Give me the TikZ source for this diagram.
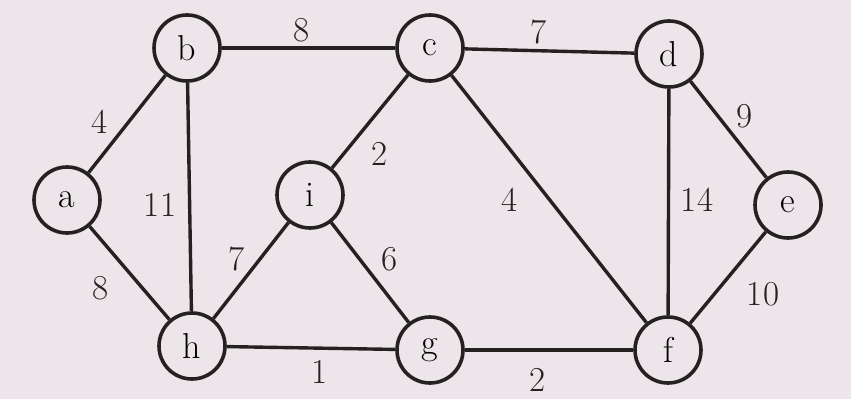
\documentclass[tikz,border=0pt]{standalone}
\begin{document}
\begin{tikzpicture}[x=1pt,y=-1pt,
  vert/.style={circle,draw=inkc,line width=3.6pt,fill=paper,minimum size=66pt,inner sep=0pt,font=\fontsize{36}{40}\selectfont},
  edge/.style={draw=inkc,line width=3.4pt},
  wlab/.style={font=\fontsize{35}{39}\selectfont,text=inkc,inner sep=0pt}]
\definecolor{paper}{RGB}{236,229,233}
\definecolor{inkc}{RGB}{38,33,33}
\fill[paper] (0,0) rectangle (851,399);
\useasboundingbox (0,0) rectangle (851,399);
\node[vert] (a) at (67,200) {a};
\node[vert] (b) at (187,48) {b};
\node[vert] (c) at (430,48) {c};
\node[vert] (d) at (669,54) {d};
\node[vert] (e) at (788,205) {e};
\node[vert] (f) at (668,350) {f};
\node[vert] (g) at (430,350) {g};
\node[vert] (h) at (192,346) {h};
\node[vert] (i) at (310,195) {i};
\draw[edge] (a) -- (b);
\draw[edge] (b) -- (c);
\draw[edge] (c) -- (d);
\draw[edge] (d) -- (e);
\draw[edge] (b) -- (h);
\draw[edge] (a) -- (h);
\draw[edge] (c) -- (i);
\draw[edge] (c) -- (f);
\draw[edge] (d) -- (f);
\draw[edge] (e) -- (f);
\draw[edge] (h) -- (i);
\draw[edge] (i) -- (g);
\draw[edge] (h) -- (g);
\draw[edge] (g) -- (f);
\node[wlab] (l1) at (100,122) {4};
\node[wlab] (l2) at (302,30) {8};
\node[wlab] (l3) at (539,32) {7};
\node[wlab] (l4) at (745,116) {9};
\node[wlab] (l5) at (160,205) {11};
\node[wlab] (l6) at (380,154) {2};
\node[wlab] (l7) at (510,200) {4};
\node[wlab] (l8) at (697,200) {14};
\node[wlab] (l9) at (101,288) {8};
\node[wlab] (l10) at (237,259) {7};
\node[wlab] (l11) at (390,259) {6};
\node[wlab] (l12) at (763,294) {10};
\node[wlab] (l13) at (320,372) {1};
\node[wlab] (l14) at (538,380) {2};
\end{tikzpicture}
\end{document}
